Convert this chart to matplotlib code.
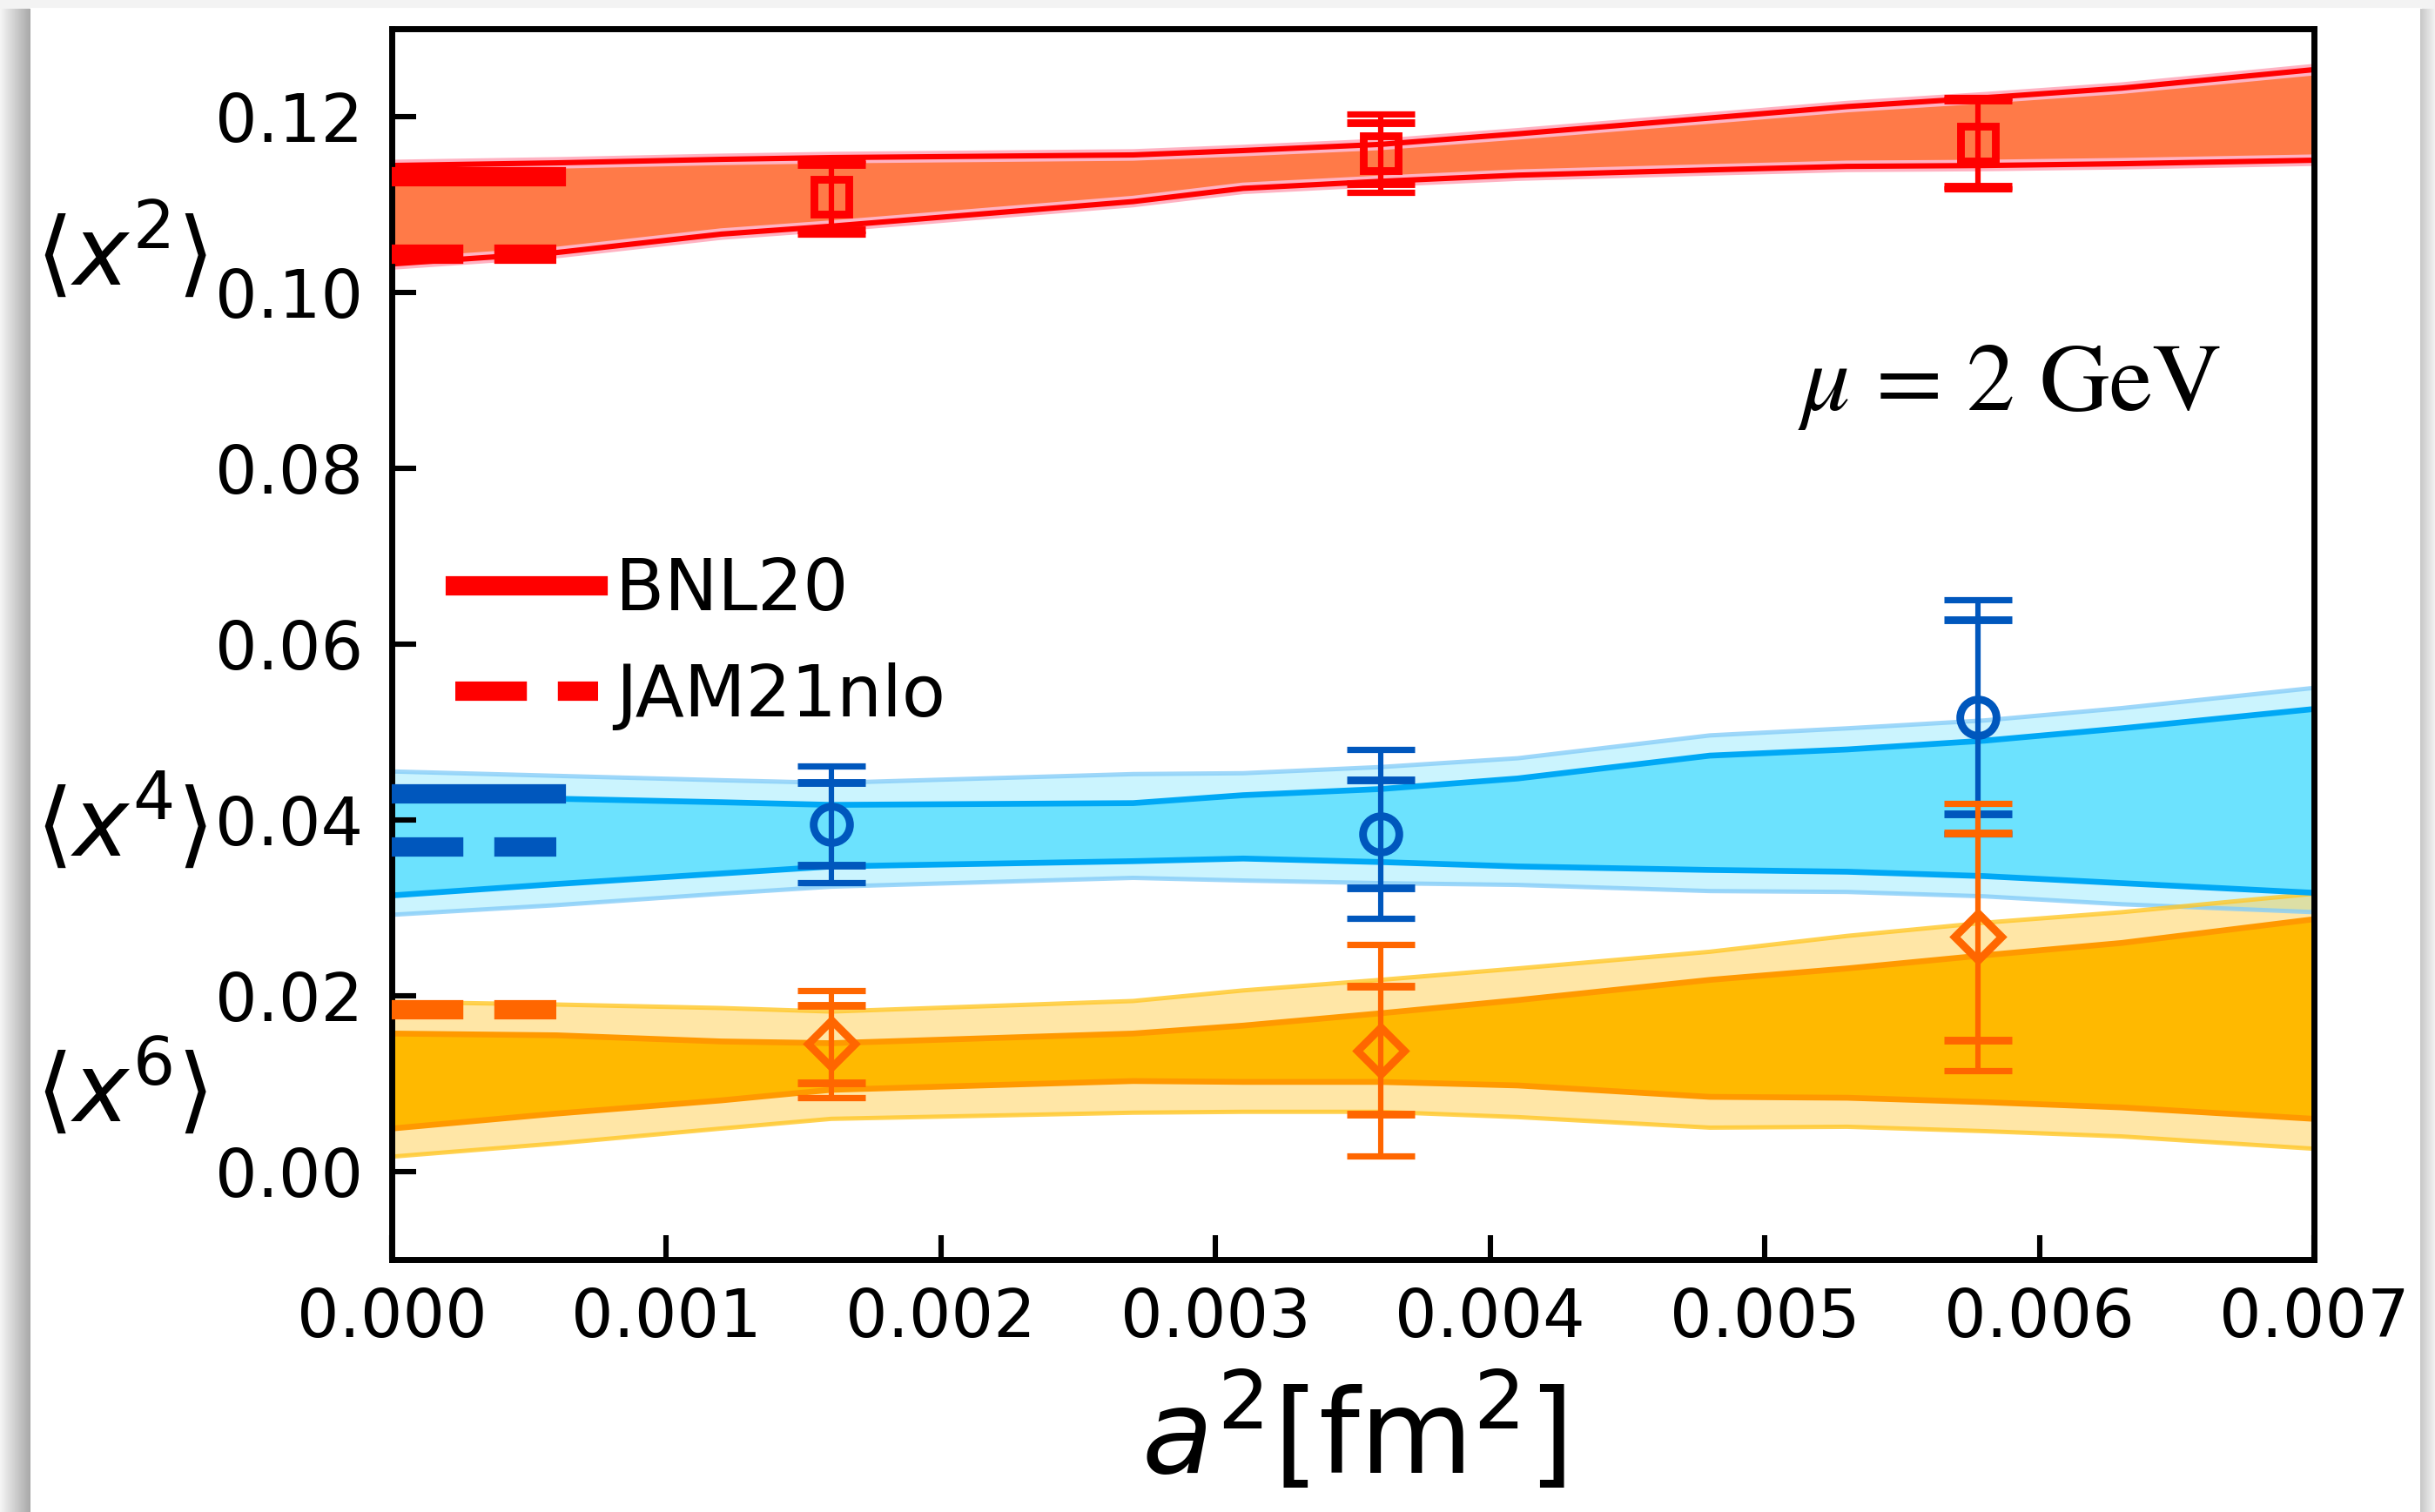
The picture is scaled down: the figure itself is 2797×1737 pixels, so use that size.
#!/usr/bin/env python3
"""
Continuum extrapolation of pion Mellin moments <x^2>, <x^4>, <x^6>
versus lattice spacing squared, with BNL20 / JAM21nlo reference values.
"""

import matplotlib

matplotlib.use("Agg")
import matplotlib.pyplot as plt
import numpy as np
from matplotlib.patches import Rectangle
from matplotlib.ticker import FormatStrFormatter

# lattice ensembles: a^2 in fm^2
a2 = [0.0016, 0.0036, 0.005776]

# moments at each ensemble: central value, stat error, total error
x2_val = [0.1108, 0.1158, 0.1169]
x2_stat = [0.0037, 0.0035, 0.0049]
x2_tot = [0.0042, 0.0045, 0.0052]

x4_val = [0.0395, 0.0384, 0.0517]
x4_stat = [0.0047, 0.0061, 0.0110]
x4_tot = [0.0066, 0.0096, 0.0133]

x6_val = [0.0145, 0.0138, 0.0267]
x6_stat = [0.0044, 0.0073, 0.0118]
x6_tot = [0.0061, 0.0120, 0.0152]

# fit bands along a^2
band_a2 = [0.0, 0.0006, 0.0012, 0.0016, 0.0027, 0.0031, 0.0036,
           0.0041, 0.0048, 0.0053, 0.0058, 0.0063, 0.007]

x2_in_hi = [0.1144, 0.1147, 0.1151, 0.1153, 0.1156, 0.1161, 0.1168,
            0.1180, 0.1198, 0.1211, 0.1221, 0.1232, 0.1253]
x2_in_lo = [0.1032, 0.1045, 0.1066, 0.1075, 0.1103, 0.1118, 0.1126,
            0.1133, 0.1139, 0.1143, 0.1144, 0.1146, 0.1150]

x4_out_hi = [0.0455, 0.0450, 0.0445, 0.0442, 0.0452, 0.0453, 0.0460,
             0.0470, 0.0496, 0.0504, 0.0513, 0.0527, 0.0550]
x4_in_hi = [0.0426, 0.0424, 0.0420, 0.0417, 0.0419, 0.0428, 0.0435,
            0.0447, 0.0473, 0.0480, 0.0490, 0.0504, 0.0526]
x4_in_lo = [0.0314, 0.0327, 0.0339, 0.0347, 0.0353, 0.0356, 0.0352,
            0.0347, 0.0343, 0.0341, 0.0336, 0.0328, 0.0317]
x4_out_lo = [0.0292, 0.0303, 0.0316, 0.0324, 0.0334, 0.0331, 0.0328,
             0.0326, 0.0319, 0.0318, 0.0313, 0.0304, 0.0295]

x6_out_hi = [0.0193, 0.0190, 0.0186, 0.0182, 0.0194, 0.0206, 0.0218,
             0.0231, 0.0250, 0.0268, 0.0283, 0.0295, 0.0316]
x6_in_hi = [0.0157, 0.0155, 0.0148, 0.0146, 0.0157, 0.0166, 0.0180,
            0.0195, 0.0218, 0.0231, 0.0246, 0.0260, 0.0287]
x6_in_lo = [0.0049, 0.0066, 0.0081, 0.0093, 0.0103, 0.0102, 0.0102,
            0.0098, 0.0085, 0.0084, 0.0079, 0.0073, 0.0060]
x6_out_lo = [0.0017, 0.0032, 0.0049, 0.0060, 0.0067, 0.0068, 0.0068,
             0.0062, 0.0050, 0.0051, 0.0046, 0.0040, 0.0026]

# reference values drawn as short bars at a^2 = 0
ref_a2 = [0.0, 0.0006]
bnl20_x2, bnl20_x4 = 0.1131, 0.0430
jam21_x2, jam21_x4, jam21_x6 = 0.1043, 0.0369, 0.0184

RED = "#ff0000"
BLUE = "#0057bd"
ORANGE = "#ff6600"

W, H = 2797, 1737
DPI = 200

fig = plt.figure(figsize=(W / DPI, H / DPI), dpi=DPI)
fig.patch.set_facecolor("#f3f3f3")

# white page with a soft shadow on the left and right
fig.add_artist(Rectangle((35 / W, 0), (2780 - 35) / W, 1 - 10 / H,
                         transform=fig.transFigure, color="white", zorder=-10))
shade_l = fig.add_axes([0, 0, 35 / W, 1 - 10 / H])
shade_l.imshow(np.linspace(0.96, 0.66, 64)[None, :], cmap="gray", vmin=0, vmax=1,
               aspect="auto", extent=(0, 1, 0, 1))
shade_l.axis("off")
shade_r = fig.add_axes([2780 / W, 0, 17 / W, 1 - 10 / H])
shade_r.imshow(np.linspace(0.78, 0.95, 32)[None, :], cmap="gray", vmin=0, vmax=1,
               aspect="auto", extent=(0, 1, 0, 1))
shade_r.axis("off")

ax = fig.add_axes([450 / W, (H - 1447) / H, (2658 - 450) / W, (1447 - 32.5) / H])


def draw_band(lo_out, lo_in, hi_in, hi_out, fill, edge_in, edge_out, z):
    ax.fill_between(band_a2, lo_out, hi_out, color=fill, alpha=0.35, lw=0, zorder=z)
    for y in (lo_out, hi_out):
        ax.plot(band_a2, y, color=edge_out, lw=1.8, alpha=0.8, zorder=z + 0.1)
    ax.fill_between(band_a2, lo_in, hi_in, color=fill, lw=0, zorder=z + 0.2)
    for y in (lo_in, hi_in):
        ax.plot(band_a2, y, color=edge_in, lw=2.4, zorder=z + 0.3)


# <x^2> band: inner fill with red edges and a faint pink rim
ax.fill_between(band_a2, x2_in_lo, x2_in_hi, color="#ff7a48", lw=0, zorder=1.2)
for y in (x2_in_lo, x2_in_hi):
    ax.plot(band_a2, y, color="#ffb3c3", lw=4.8, zorder=1.25)
    ax.plot(band_a2, y, color=RED, lw=2.2, zorder=1.3)

draw_band(x4_out_lo, x4_in_lo, x4_in_hi, x4_out_hi,
          "#6ce2fe", "#00a8f5", "#86cdf8", 1)
draw_band(x6_out_lo, x6_in_lo, x6_in_hi, x6_out_hi,
          "#ffb900", "#ff9900", "#ffc727", 1)

# BNL20 (solid) and JAM21nlo (dashed) at the continuum
l_bnl, = ax.plot(ref_a2, [bnl20_x2] * 2, color=RED, lw=8, zorder=3, label="BNL20")
l_jam, = ax.plot(ref_a2, [jam21_x2] * 2, color=RED, lw=8, ls="--", zorder=3,
                 label="JAM21nlo")
ax.plot(ref_a2, [bnl20_x4] * 2, color=BLUE, lw=8, zorder=3)
ax.plot(ref_a2, [jam21_x4] * 2, color=BLUE, lw=8, ls="--", zorder=3)
ax.plot(ref_a2, [jam21_x6] * 2, color=ORANGE, lw=8, ls="--", zorder=3)


def draw_points(vals, stat, tot, color, marker, ms, z):
    style = dict(ecolor=color, elinewidth=2.2, capsize=13.9, capthick=2.6)
    ax.errorbar(a2, vals, yerr=tot, fmt="none", zorder=z, **style)
    ax.errorbar(a2, vals, yerr=stat, fmt=marker, color=color, mfc="none",
                ms=ms, mew=3.2, zorder=z + 0.1, **style)


draw_points(x2_val, x2_stat, x2_tot, RED, "s", 14.5, 5)
draw_points(x4_val, x4_stat, x4_tot, BLUE, "o", 15, 6)
draw_points(x6_val, x6_stat, x6_tot, ORANGE, "D", 13.5, 7)

ax.set_xlim(0, 0.007)
ax.set_ylim(-0.01, 0.13)
ax.set_xticks(np.arange(0, 0.0071, 0.001))
ax.set_yticks(np.arange(0, 0.121, 0.02))
ax.xaxis.set_major_formatter(FormatStrFormatter("%.3f"))
ax.yaxis.set_major_formatter(FormatStrFormatter("%.2f"))
ax.tick_params(direction="in", length=10, width=2.2, labelsize=27.5, pad=12)
ax.tick_params(axis="x", pad=11)
for s in ax.spines.values():
    s.set_linewidth(2.5)

ax.set_xlabel(r"$a^2[\mathrm{fm}^2]$", fontsize=48, labelpad=10)

# moment labels in the left margin
side = ax.get_yaxis_transform()
for txt, yv in [(r"$\langle x^2\rangle$", 0.1043),
                (r"$\langle x^4\rangle$", 0.0394),
                (r"$\langle x^6\rangle$", 0.0092)]:
    ax.text(-0.1408, yv, txt, transform=side, fontsize=39,
            ha="center", va="center", clip_on=False)

ax.text(0.00512, 0.0866, r"$\mu$ = 2 GeV", fontsize=40, family="STIXGeneral",
        math_fontfamily="stix", ha="left", va="baseline")

ax.legend(handles=[l_bnl, l_jam], loc="center left", bbox_to_anchor=(0.033, 0.5),
          frameon=False, fontsize=29.5, handlelength=2.0, handletextpad=0.25,
          labelspacing=0.52, borderpad=0, borderaxespad=0)

fig.savefig("out.png", dpi=DPI, facecolor=fig.get_facecolor())
